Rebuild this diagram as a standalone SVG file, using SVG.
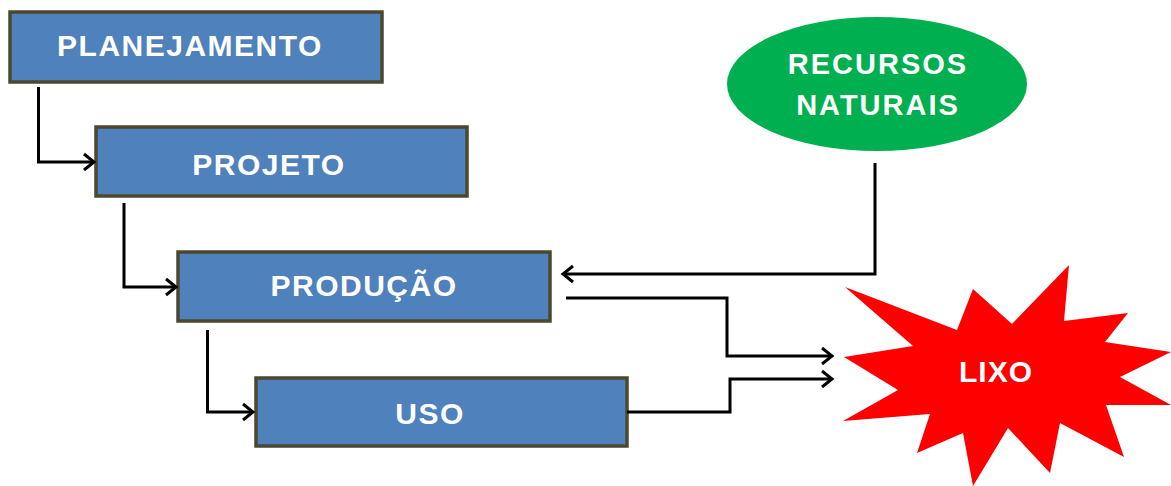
<svg xmlns="http://www.w3.org/2000/svg" width="1171" height="486" viewBox="0 0 1171 486">
<style>
.box{fill:#4f81bd;stroke:#4b482f;stroke-width:3.5}
.lbl{font-family:"Liberation Sans",Arial,sans-serif;font-weight:bold;font-size:30px;fill:#fff;text-anchor:middle;letter-spacing:1.5px}
.con{fill:none;stroke:#000;stroke-width:3;marker-end:url(#ah)}
</style>
<defs>
<marker id="ah" markerUnits="userSpaceOnUse" markerWidth="16" markerHeight="20" refX="12" refY="10" orient="auto" viewBox="0 0 16 20">
<path d="M2,2 L12,10 L2,18" fill="none" stroke="#000" stroke-width="3"/>
</marker>
</defs>
<rect width="1171" height="486" fill="#fff"/>
<g id="lixo">
<polygon points="845,287 957,330 973,289 1012,324 1069,265 1064,321 1128,313 1105,342 1171,352 1120,377 1171,405 1106,405 1124,457 1060,423 1050,473 1008,428 973,486 963,433 917,453 930,414 843,421 898,390 844,357 913,346" fill="#ff0000"/>
<text class="lbl" x="996" y="382" style="letter-spacing:1px">LIXO</text>
</g>
<g id="planejamento">
<rect class="box" x="10" y="12" width="372" height="70"/>
<text class="lbl" x="190" y="56">PLANEJAMENTO</text>
</g>
<g id="projeto">
<rect class="box" x="96" y="127" width="371" height="69"/>
<text class="lbl" x="269" y="175">PROJETO</text>
</g>
<g id="producao">
<rect class="box" x="178" y="252" width="372" height="69"/>
<text class="lbl" x="364" y="296">PRODUÇÃO</text>
</g>
<g id="uso">
<rect class="box" x="256" y="378" width="371" height="68"/>
<text class="lbl" x="430" y="424">USO</text>
</g>
<g id="recursos">
<ellipse cx="877" cy="84" rx="150" ry="67" fill="#00b050"/>
<text class="lbl" x="878" y="74" style="font-size:29px;letter-spacing:2px">RECURSOS</text>
<text class="lbl" x="878" y="115" style="font-size:29px;letter-spacing:2px">NATURAIS</text>
</g>
<g id="connectors">
<path class="con" d="M38.5,87 V162 H94"/>
<path class="con" d="M124,203 V287 H176"/>
<path class="con" d="M207.5,330 V412 H253"/>
<path class="con" d="M875,163 V274 H563" style="marker-end:url(#ah)"/>
<path class="con" d="M566,298 H727 V356 H832"/>
<path class="con" d="M627,412 H730 V379 H832"/>
</g>
</svg>
